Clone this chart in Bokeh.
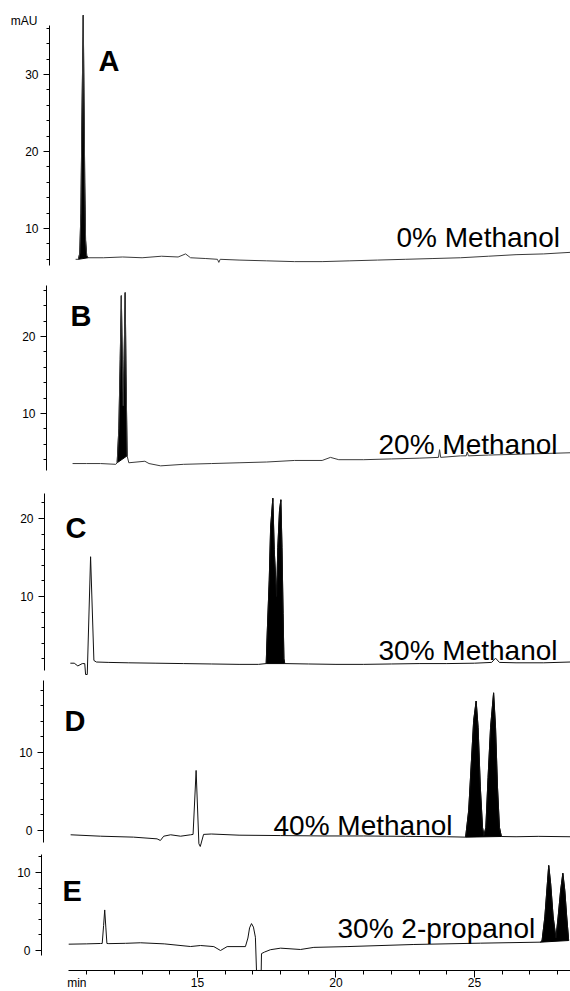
from bokeh.plotting import figure
from bokeh.models import Range1d, Label, SingleIntervalTicker, FixedTicker, LinearAxis
from bokeh.layouts import column
from bokeh.embed import file_html
from bokeh.resources import INLINE

# ---------------- data: retention time (min) and absorbance (mAU) ----------------
a_time = [10.60, 10.70, 10.75, 10.79, 10.83, 10.875, 10.90, 10.93, 10.96, 11.00,
          11.05, 11.60, 12.30, 13.00, 13.70, 14.30, 14.57, 14.75, 15.30, 15.72,
          15.77, 15.82, 16.50, 17.50, 18.50, 19.50, 20.50, 21.50, 22.50, 23.50,
          24.50, 25.50, 26.50, 27.50, 28.45]
a_signal = [6.0, 6.0, 6.8, 12.0, 25.0, 37.7, 28.0, 16.0, 8.5, 6.5,
            6.2, 6.2, 6.3, 6.2, 6.4, 6.3, 6.7, 6.2, 6.1, 6.0,
            5.6, 6.0, 5.9, 5.8, 5.7, 5.7, 5.8, 5.9, 6.0, 6.1,
            6.2, 6.4, 6.6, 6.7, 6.9]
a_fill = (10.70, 11.05)

b_time = [10.49, 11.00, 11.50, 12.05, 12.10, 12.16, 12.21, 12.25, 12.29, 12.32,
          12.35, 12.39, 12.42, 12.46, 12.52, 13.10, 13.25, 13.67, 14.50, 15.50,
          16.50, 17.50, 18.50, 19.50, 19.80, 20.10, 21.00, 22.00, 23.00, 23.70,
          23.74, 23.78, 24.50, 24.70, 24.74, 24.78, 25.50, 26.50, 27.50, 28.45]
b_signal = [3.5, 3.5, 3.5, 3.4, 3.6, 8.0, 17.0, 25.3, 16.0, 11.0,
            17.0, 25.7, 15.0, 4.5, 3.6, 3.8, 3.5, 3.2, 3.4, 3.5,
            3.6, 3.7, 3.9, 3.9, 4.3, 4.0, 4.0, 4.1, 4.2, 4.3,
            5.3, 4.3, 4.5, 4.5, 5.0, 4.5, 4.6, 4.7, 4.8, 4.9]
b_fill = (12.10, 12.46)

c_time = [10.41, 10.55, 10.68, 10.84, 10.93, 10.96, 11.02, 11.14, 11.26, 11.35,
          11.80, 12.50, 13.50, 14.50, 15.50, 16.50, 17.20, 17.48, 17.52, 17.59,
          17.64, 17.72, 17.77, 17.855, 17.90, 17.96, 18.01, 18.05, 18.09, 18.12,
          18.15, 19.00, 20.00, 21.00, 22.00, 23.00, 24.00, 25.00, 25.62, 25.76,
          25.90, 26.50, 27.50, 28.45]
c_signal = [1.45, 1.45, 1.1, 1.4, 1.4, 0.0, 0.0, 15.1, 1.8, 1.6,
            1.55, 1.5, 1.45, 1.4, 1.35, 1.3, 1.3, 1.4, 5.6, 12.1,
            18.9, 22.6, 16.0, 10.0, 16.3, 21.0, 22.4, 16.3, 7.8, 2.0,
            1.4, 1.35, 1.3, 1.3, 1.35, 1.4, 1.4, 1.45, 1.55, 2.1,
            1.55, 1.5, 1.5, 1.6]
c_fill = (17.48, 18.15)

d_time = [10.42, 11.50, 12.69, 13.54, 13.66, 13.78, 14.03, 14.39, 14.75, 14.84,
          14.95, 15.05, 15.10, 15.22, 15.50, 16.50, 18.00, 19.50, 21.00, 22.50,
          24.00, 24.68, 24.79, 24.89, 24.97, 25.06, 25.13, 25.21, 25.29, 25.34,
          25.41, 25.49, 25.58, 25.69, 25.76, 25.83, 25.90, 25.97, 26.50, 27.30,
          28.45]
d_signal = [-0.55, -0.73, -0.85, -1.07, -1.28, -0.73, -0.55, -0.73, -0.55, -0.5,
            7.7, -1.7, -2.05, -0.5, -0.45, -0.6, -0.65, -0.7, -0.7, -0.75,
            -0.8, -0.85, 2.56, 8.97, 14.1, 16.6, 13.2, 5.6, 0.4, -0.64,
            0.4, 6.8, 13.2, 17.65, 13.2, 5.6, 0.4, -0.77, -0.8, -0.75,
            -0.8]
d_fill = (24.68, 25.97)

e_time = [10.35, 11.00, 11.50, 11.56, 11.61, 11.65, 11.69, 11.73, 11.80, 12.40,
          12.94, 13.80, 14.75, 15.11, 15.59, 15.83, 16.07, 16.73, 16.82, 16.88,
          16.95, 17.02, 17.09, 17.13, 17.30, 17.31, 17.42, 17.63, 18.00, 18.72,
          19.20, 20.40, 22.81, 25.22, 27.38, 27.44, 27.54, 27.63, 27.68, 27.75,
          27.84, 27.94, 28.02, 28.11, 28.19, 28.26, 28.33, 28.40]
e_signal = [0.81, 0.85, 0.9, 0.9, 3.2, 5.2, 3.0, 0.9, 0.88, 0.92,
            0.99, 0.85, 0.51, 0.64, 0.5, 0.0, 0.5, 0.5, 1.6, 2.9,
            3.45, 3.0, 1.7, -2.56, -2.56, -0.4, -0.2, 0.1, 0.3, 0.13,
            0.4, 0.5, 0.77, 0.94, 1.07, 1.28, 4.3, 8.55, 10.9, 8.55,
            4.3, 1.6, 4.3, 7.7, 9.9, 7.7, 4.3, 1.28]
e_fill = (27.38, 28.40)

panel_letters = ["A", "B", "C", "D", "E"]
conditions = ["0% Methanol", "20% Methanol", "30% Methanol", "40% Methanol", "30% 2-propanol"]
y_unit = "mAU"
x_unit = "min"

# ---------------- layout / styling ----------------
FONT = "Liberation Sans"
WIDTH = 570
X_RANGE = (7.888, 28.466)       # frame spans the whole page width
X_AXIS_AT = -2.564              # mAU level of the time axis in panel E
panels = [
    # height, y-range, y-axis x-location (min), y-axis bounds, letter pos, condition pos
    dict(t=a_time, s=a_signal, fill=a_fill, h=272, yr=(4.286, 39.610), ax=9.657,
         bounds=(5.2, 36.4), lp=(11.43, 31.69), cp=(22.184, 8.83), col="#3a3a3a"),
    dict(t=b_time, s=b_signal, fill=b_fill, h=206, yr=(1.558, 28.312), ax=9.549,
         bounds=(2.6, 26.6), lp=(10.415, 22.60), cp=(21.534, 5.97), col="#3a3a3a"),
    dict(t=c_time, s=c_signal, fill=c_fill, h=198, yr=(-0.256, 25.128), ax=9.477,
         bounds=(0.5, 23.2), lp=(10.235, 18.72), cp=(21.534, 3.08), col="#111111"),
    dict(t=d_time, s=d_signal, fill=d_fill, h=172, yr=(-2.308, 19.744), ax=9.440,
         bounds=(-1.55, 19.2), lp=(10.199, 14.10), cp=(17.744, 0.64), col="#111111"),
    dict(t=e_time, s=e_signal, fill=e_fill, h=143, yr=(-5.256, 13.077), ax=9.368,
         bounds=(-0.65, 12.3), lp=(10.126, 7.69), cp=(20.054, 2.82), col="#111111"),
]


def style_labels(ax):
    ax.major_label_text_font = FONT
    ax.major_label_text_font_size = "12px"
    ax.major_label_text_color = "black"


def unit_axis(text, x_loc, y_tick):
    """A line-less, tick-less axis that only carries a unit caption."""
    ax = LinearAxis(fixed_location=x_loc, ticker=FixedTicker(ticks=[y_tick]),
                    bounds=(y_tick - 0.1, y_tick + 0.1),
                    major_label_overrides={y_tick: text})
    ax.axis_line_color = None
    ax.major_tick_line_color = None
    ax.minor_tick_line_color = None
    ax.major_tick_in = 0
    ax.major_tick_out = 0
    ax.major_label_standoff = 0
    style_labels(ax)
    return ax


figs = []
for i, pd_ in enumerate(panels):
    last = i == len(panels) - 1
    p = figure(width=WIDTH, height=pd_["h"], output_backend="svg", toolbar_location=None,
               x_range=Range1d(*X_RANGE), y_range=Range1d(*pd_["yr"]),
               x_axis_location="below" if last else None,
               min_border_left=0, min_border_right=0, min_border_top=0,
               min_border_bottom=0)
    p.outline_line_color = None
    p.grid.visible = False
    p.background_fill_color = "white"
    p.border_fill_color = "white"

    ya = p.yaxis[0]
    ya.fixed_location = pd_["ax"]
    ya.ticker = SingleIntervalTicker(interval=10, num_minor_ticks=5)
    ya.bounds = pd_["bounds"]
    ya.axis_line_color = "black"
    ya.axis_line_width = 1
    ya.major_tick_in = 0
    ya.major_tick_out = 6
    ya.minor_tick_in = 0
    ya.minor_tick_out = 3
    ya.major_tick_line_color = "black"
    ya.minor_tick_line_color = "black"
    ya.major_label_standoff = 5
    style_labels(ya)

    if last:
        xa = p.xaxis[0]
        xa.fixed_location = X_AXIS_AT
        xa.ticker = SingleIntervalTicker(interval=5, num_minor_ticks=5)
        xa.bounds = (10.34, X_RANGE[1])
        xa.axis_line_color = "black"
        xa.major_tick_in = 0
        xa.major_tick_out = 7
        xa.minor_tick_in = 0
        xa.minor_tick_out = 4
        xa.major_tick_line_color = "black"
        xa.minor_tick_line_color = "black"
        xa.major_label_standoff = 0
        style_labels(xa)

    # filled analyte peaks
    lo, hi = pd_["fill"]
    ft = [t for t in pd_["t"] if lo <= t <= hi]
    fs = [s for t, s in zip(pd_["t"], pd_["s"]) if lo <= t <= hi]
    p.patch(ft, fs, fill_color="black", line_color="black", line_width=1)
    # trace
    p.line(pd_["t"], pd_["s"], line_color=pd_["col"], line_width=1)

    p.add_layout(Label(x=pd_["lp"][0], y=pd_["lp"][1], text=panel_letters[i],
                       text_font=FONT, text_font_style="bold", text_font_size="29px",
                       text_baseline="alphabetic", text_align="left", text_color="black"))
    p.add_layout(Label(x=pd_["cp"][0], y=pd_["cp"][1], text=conditions[i],
                       text_font=FONT, text_font_size="28px",
                       text_baseline="alphabetic", text_align="left", text_color="black"))
    if i == 0:
        p.add_layout(unit_axis(y_unit, 9.224, 36.91), "left")
    if last:
        p.add_layout(unit_axis(x_unit, 10.993, -4.21), "left")
    figs.append(p)

layout = column(*figs, spacing=0)
open("out.html", "w").write(file_html(layout, INLINE))
